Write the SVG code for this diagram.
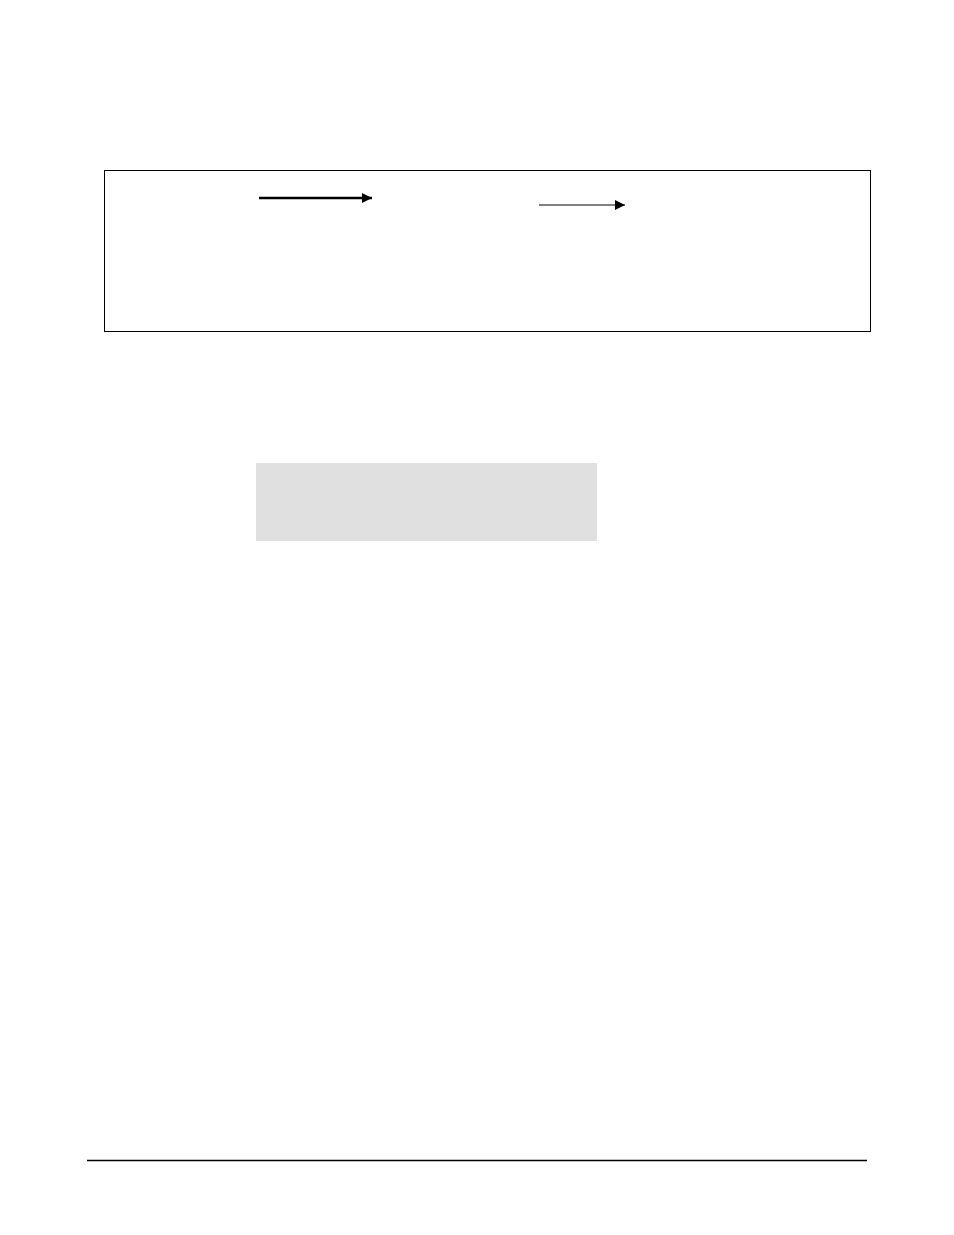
<svg xmlns="http://www.w3.org/2000/svg" width="954" height="1235" viewBox="0 0 954 1235">
<style>
.frame{fill:none;stroke:#000;stroke-width:1}
.conn{stroke:#000;fill:none}
</style>
<defs>
<marker id="ah" viewBox="0 0 10 10" refX="10" refY="5" markerWidth="10" markerHeight="10" markerUnits="userSpaceOnUse" orient="auto">
<path d="M0,0 L10,5 L0,10 Z" fill="#000"/>
</marker>
</defs>
<rect width="954" height="1235" fill="#fff"/>
<g id="frame-box"><rect class="frame" x="104.5" y="170.5" width="766" height="161"/></g>
<g id="grey-box"><rect x="256" y="463" width="341" height="78" fill="#e0e0e0"/></g>
<g id="connectors">
<line class="conn" x1="259" y1="198" x2="372" y2="198" stroke-width="2.5" marker-end="url(#ah)"/>
<line class="conn" x1="539" y1="205" x2="625" y2="205" stroke-width="1" marker-end="url(#ah)"/>
</g>
<g id="footer"><line x1="87" y1="1160.5" x2="867" y2="1160.5" stroke="#000" stroke-width="1.3"/></g>
</svg>
